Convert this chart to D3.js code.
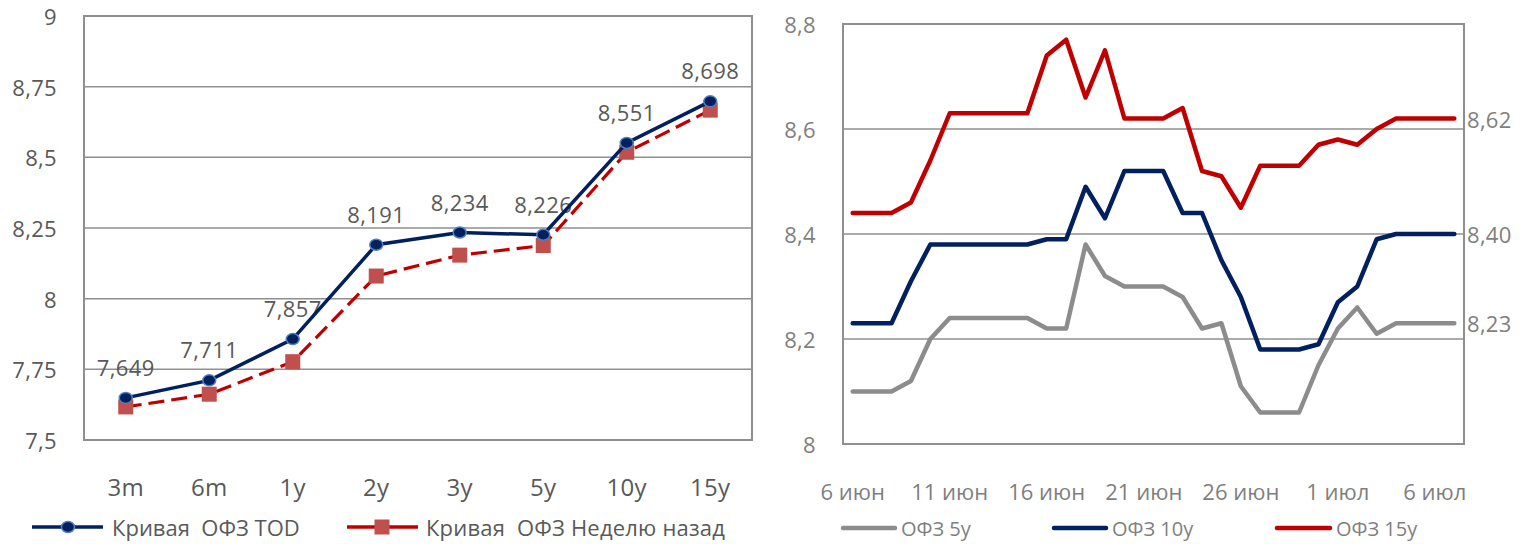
<!DOCTYPE html>
<html>
<head>
<meta charset="utf-8">
<script src="https://cdn.jsdelivr.net/npm/d3@7"></script>
<style>
  html, body { margin: 0; padding: 0; background: #ffffff; }
  svg { display: block; font-family: "Open Sans", "Noto Sans", sans-serif; }
</style>
</head>
<body>
<svg id="chart" width="1525" height="544"></svg>
<script>
// ---------- Left chart data (yield curve) ----------
const curveCategories = ["3m", "6m", "1y", "2y", "3y", "5y", "10y", "15y"];
const curveToday = [7.649, 7.711, 7.857, 8.191, 8.234, 8.226, 8.551, 8.698];
const curveWeekAgo = [7.617, 7.662, 7.777, 8.080, 8.154, 8.188, 8.518, 8.667];
const curveTicks = [7.5, 7.75, 8, 8.25, 8.5, 8.75, 9];
const curveSeriesNames = ["Кривая  ОФЗ TOD", "Кривая  ОФЗ Неделю назад"];

// ---------- Right chart data (daily history) ----------
const dates = ["6 июн", "7 июн", "8 июн", "9 июн", "10 июн", "11 июн", "12 июн", "13 июн",
  "14 июн", "15 июн", "16 июн", "17 июн", "18 июн", "19 июн", "20 июн", "21 июн",
  "22 июн", "23 июн", "24 июн", "25 июн", "26 июн", "27 июн", "28 июн", "29 июн",
  "30 июн", "1 июл", "2 июл", "3 июл", "4 июл", "5 июл", "6 июл", "7 июл"];
const ofz5y = [8.10, 8.10, 8.10, 8.12, 8.20, 8.24, 8.24, 8.24, 8.24, 8.24, 8.22, 8.22,
  8.38, 8.32, 8.30, 8.30, 8.30, 8.28, 8.22, 8.23, 8.11, 8.06, 8.06, 8.06,
  8.15, 8.22, 8.26, 8.21, 8.23, 8.23, 8.23, 8.23];
const ofz10y = [8.23, 8.23, 8.23, 8.31, 8.38, 8.38, 8.38, 8.38, 8.38, 8.38, 8.39, 8.39,
  8.49, 8.43, 8.52, 8.52, 8.52, 8.44, 8.44, 8.35, 8.28, 8.18, 8.18, 8.18,
  8.19, 8.27, 8.30, 8.39, 8.40, 8.40, 8.40, 8.40];
const ofz15y = [8.44, 8.44, 8.44, 8.46, 8.54, 8.63, 8.63, 8.63, 8.63, 8.63, 8.74, 8.77,
  8.66, 8.75, 8.62, 8.62, 8.62, 8.64, 8.52, 8.51, 8.45, 8.53, 8.53, 8.53,
  8.57, 8.58, 8.57, 8.60, 8.62, 8.62, 8.62, 8.62];
const historyTicks = [8, 8.2, 8.4, 8.6, 8.8];
const historyLabelEvery = 5;
const historySeriesNames = ["ОФЗ 5y", "ОФЗ 10y", "ОФЗ 15y"];

// ---------- Styles ----------
const fmtComma = v => String(v).replace(".", ",");
const fmt2 = v => v.toFixed(2).replace(".", ",");
const fmt3 = v => v.toFixed(3).replace(".", ",");
const navy = "#002060", red = "#C00000", grey = "#8C8C8C";
const axisGrey = "#8F8F8F";
const textDark = "#595959", textLight = "#7F7F7F";
const FS = 22;

const svg = d3.select("#chart");

// ================= LEFT CHART =================
{
  const L = { x0: 84, x1: 752, y0: 16, y1: 440 };
  const x = d3.scalePoint().domain(curveCategories).range([L.x0, L.x1]).padding(0.5);
  const y = d3.scaleLinear().domain([7.5, 9]).range([L.y1, L.y0]);
  const g = svg.append("g");

  g.selectAll("line.grid").data(curveTicks).join("line")
    .attr("x1", L.x0).attr("x2", L.x1)
    .attr("y1", d => y(d)).attr("y2", d => y(d))
    .attr("stroke", axisGrey).attr("stroke-width", 1.5);
  g.append("rect").attr("x", L.x0).attr("y", L.y0)
    .attr("width", L.x1 - L.x0).attr("height", L.y1 - L.y0)
    .attr("fill", "none").attr("stroke", axisGrey).attr("stroke-width", 2);

  g.selectAll("text.ylab").data(curveTicks).join("text")
    .attr("x", 57).attr("y", d => y(d))
    .attr("text-anchor", "end").attr("dominant-baseline", "central")
    .attr("font-size", FS).attr("letter-spacing", 0.3).attr("fill", textDark)
    .text(fmtComma);

  g.selectAll("text.xlab").data(curveCategories).join("text")
    .attr("x", d => x(d)).attr("y", 486)
    .attr("text-anchor", "middle").attr("dominant-baseline", "central")
    .attr("font-size", 24).attr("letter-spacing", 0.3).attr("fill", textDark)
    .text(d => d);

  g.selectAll("text.dlab").data(curveToday).join("text")
    .attr("x", (d, i) => x(curveCategories[i])).attr("y", d => y(d) - 31)
    .attr("text-anchor", "middle").attr("dominant-baseline", "central")
    .attr("font-size", FS).attr("letter-spacing", 0.4).attr("fill", textDark)
    .text(fmt3);

  const line = d3.line().x((d, i) => x(curveCategories[i])).y(d => y(d));

  g.append("path").attr("d", line(curveWeekAgo))
    .attr("fill", "none").attr("stroke", red).attr("stroke-width", 3.2)
    .attr("stroke-dasharray", "16,7");
  g.selectAll("rect.mk").data(curveWeekAgo).join("rect")
    .attr("x", (d, i) => x(curveCategories[i]) - 7.5).attr("y", d => y(d) - 7.5)
    .attr("width", 15).attr("height", 15).attr("fill", "#C0504D");

  g.append("path").attr("d", line(curveToday))
    .attr("fill", "none").attr("stroke", navy).attr("stroke-width", 3.5);
  g.selectAll("ellipse.mk").data(curveToday).join("ellipse")
    .attr("cx", (d, i) => x(curveCategories[i])).attr("cy", d => y(d))
    .attr("rx", 6.5).attr("ry", 5.5)
    .attr("fill", navy).attr("stroke", "#4F81BD").attr("stroke-width", 1.5);

  const ly = 527;
  g.append("line").attr("x1", 32).attr("x2", 103).attr("y1", ly).attr("y2", ly)
    .attr("stroke", navy).attr("stroke-width", 3.5);
  g.append("ellipse").attr("cx", 68).attr("cy", ly).attr("rx", 6.5).attr("ry", 5.5)
    .attr("fill", navy).attr("stroke", "#4F81BD").attr("stroke-width", 1.5);
  g.append("text").attr("x", 112).attr("y", ly).attr("dominant-baseline", "central")
    .attr("font-size", FS).attr("fill", textDark)
    .style("white-space", "pre").text(curveSeriesNames[0]);

  g.append("line").attr("x1", 347).attr("x2", 418).attr("y1", ly).attr("y2", ly)
    .attr("stroke", red).attr("stroke-width", 3.5);
  g.append("rect").attr("x", 382 - 7.5).attr("y", ly - 7.5).attr("width", 15).attr("height", 15)
    .attr("fill", "#C0504D");
  g.append("text").attr("x", 426).attr("y", ly).attr("dominant-baseline", "central")
    .attr("font-size", FS).attr("letter-spacing", 0.2).attr("fill", textDark)
    .style("white-space", "pre").text(curveSeriesNames[1]);
}

// ================= RIGHT CHART =================
{
  const R = { x0: 843, x1: 1464, y0: 24, y1: 444 };
  const x = d3.scaleBand().domain(dates).range([R.x0, R.x1]);
  const cx = d => x(d) + x.bandwidth() / 2;
  const y = d3.scaleLinear().domain([8, 8.8]).range([R.y1, R.y0]);
  const g = svg.append("g");

  g.selectAll("line.grid").data(historyTicks).join("line")
    .attr("x1", R.x0).attr("x2", R.x1)
    .attr("y1", d => y(d)).attr("y2", d => y(d))
    .attr("stroke", axisGrey).attr("stroke-width", 1.5);
  g.append("rect").attr("x", R.x0).attr("y", R.y0)
    .attr("width", R.x1 - R.x0).attr("height", R.y1 - R.y0)
    .attr("fill", "none").attr("stroke", axisGrey).attr("stroke-width", 2);

  g.selectAll("text.ylab").data(historyTicks).join("text")
    .attr("x", 816).attr("y", d => y(d))
    .attr("text-anchor", "end").attr("dominant-baseline", "central")
    .attr("font-size", FS).attr("letter-spacing", 0.3).attr("fill", textLight)
    .text(fmtComma);

  const shown = dates.filter((d, i) => i % historyLabelEvery === 0);
  g.selectAll("text.xlab").data(shown).join("text")
    .attr("x", d => cx(d)).attr("y", 491)
    .attr("text-anchor", "middle").attr("dominant-baseline", "central")
    .attr("font-size", FS).attr("fill", textLight)
    .text(d => d);

  const series = [
    { name: historySeriesNames[0], values: ofz5y, color: grey },
    { name: historySeriesNames[1], values: ofz10y, color: navy },
    { name: historySeriesNames[2], values: ofz15y, color: red }
  ];
  const line = d3.line().x((d, i) => cx(dates[i])).y(d => y(d));
  series.forEach(s => {
    g.append("path").attr("d", line(s.values))
      .attr("fill", "none").attr("stroke", s.color).attr("stroke-width", 4.5)
      .attr("stroke-linejoin", "round").attr("stroke-linecap", "round");
    const last = s.values[s.values.length - 1];
    g.append("text").attr("x", R.x1 + 3).attr("y", y(last))
      .attr("dominant-baseline", "central")
      .attr("font-size", FS).attr("letter-spacing", 0.3).attr("fill", textLight)
      .text(fmt2(last));
  });

  const ly = 528;
  const legendPos = [[843, 895, 901], [1054, 1106, 1112], [1277, 1330, 1336]];
  series.forEach((s, i) => {
    const [a, b, t] = legendPos[i];
    g.append("line").attr("x1", a).attr("x2", b).attr("y1", ly).attr("y2", ly)
      .attr("stroke", s.color).attr("stroke-width", 4.5).attr("stroke-linecap", "round");
    g.append("text").attr("x", t).attr("y", ly).attr("dominant-baseline", "central")
      .attr("font-size", 20).attr("fill", textLight).text(s.name);
  });
}
</script>
</body>
</html>
